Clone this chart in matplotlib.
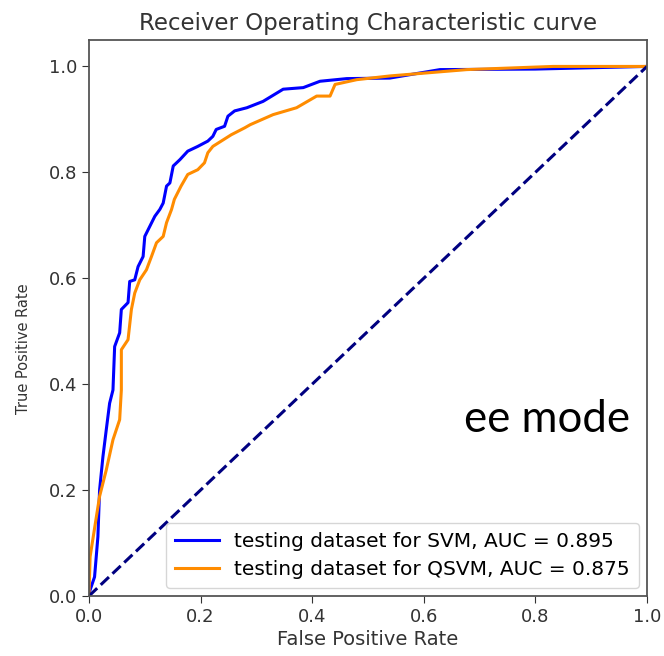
import numpy as np
import matplotlib.pyplot as plt

# ROC points for the two classifiers (testing set)
svm_fpr = [0, 0.001, 0.010, 0.016, 0.019, 0.025, 0.031, 0.037, 0.043, 0.046, 0.055, 0.058,
           0.070, 0.073, 0.082, 0.088, 0.097, 0.100, 0.109, 0.118, 0.127, 0.133, 0.139,
           0.145, 0.151, 0.163, 0.177, 0.195, 0.213, 0.222, 0.228, 0.243, 0.249, 0.261,
           0.283, 0.312, 0.348, 0.384, 0.414, 0.462, 0.539, 0.629, 0.800, 1.0]
svm_tpr = [0, 0.008, 0.036, 0.112, 0.200, 0.263, 0.314, 0.364, 0.389, 0.471, 0.497, 0.541,
           0.554, 0.594, 0.597, 0.622, 0.641, 0.679, 0.698, 0.717, 0.730, 0.742, 0.774,
           0.780, 0.812, 0.824, 0.840, 0.849, 0.859, 0.868, 0.881, 0.887, 0.906, 0.916,
           0.922, 0.934, 0.957, 0.960, 0.972, 0.977, 0.978, 0.994, 0.995, 1.0]
qsvm_fpr = [0, 0.002, 0.019, 0.031, 0.043, 0.055, 0.058, 0.058, 0.070, 0.076, 0.082, 0.091,
            0.103, 0.112, 0.121, 0.133, 0.139, 0.148, 0.153, 0.165, 0.177, 0.195, 0.207,
            0.213, 0.222, 0.237, 0.255, 0.279, 0.289, 0.330, 0.372, 0.408, 0.432, 0.441,
            0.480, 0.539, 0.677, 0.832, 1.0]
qsvm_tpr = [0, 0.074, 0.188, 0.238, 0.295, 0.333, 0.389, 0.465, 0.484, 0.541, 0.572, 0.597,
            0.616, 0.641, 0.667, 0.679, 0.705, 0.730, 0.749, 0.774, 0.796, 0.805, 0.818,
            0.837, 0.849, 0.859, 0.871, 0.884, 0.890, 0.909, 0.922, 0.944, 0.944, 0.966,
            0.975, 0.982, 0.994, 1.0, 1.0]
svm_auc = 0.895
qsvm_auc = 0.875

fig = plt.figure(figsize=(6.64, 6.56), dpi=100)
ax = fig.add_axes([0.134, 0.0915, 0.8404, 0.8476])

ax.plot(svm_fpr, svm_tpr, color='blue', lw=2.2,
        label='testing dataset for SVM, AUC = %0.3f' % svm_auc)
ax.plot(qsvm_fpr, qsvm_tpr, color='darkorange', lw=2.2,
        label='testing dataset for QSVM, AUC = %0.3f' % qsvm_auc)
ax.plot([0, 1], [0, 1], color='navy', lw=2.2, linestyle='--')

ax.set_xlim([0.0, 1.0])
ax.set_ylim([0.0, 1.05])
ax.set_xlabel('False Positive Rate', fontsize=14, color='#333333', labelpad=3)
ax.set_ylabel('True Positive Rate', fontsize=10.5, color='#333333')
ax.yaxis.set_label_coords(-0.104, 0.444)
ax.set_title('Receiver Operating Characteristic curve', fontsize=16.5, color='#333333', pad=7)
ax.tick_params(labelsize=13, colors='#333333', length=5)
for s in ax.spines.values():
    s.set_color('#555555')
    s.set_linewidth(1.3)

ax.legend(loc='lower right', fontsize=14.5, handlelength=2.2, handletextpad=0.75,
          borderaxespad=0.4, labelspacing=0.45, borderpad=0.45)
ax.text(0.9695, 0.317, 'ee mode', transform=ax.transAxes, ha='right', va='center',
        fontsize=31.5, family='Lato')

fig.savefig('out.png', dpi=100)
